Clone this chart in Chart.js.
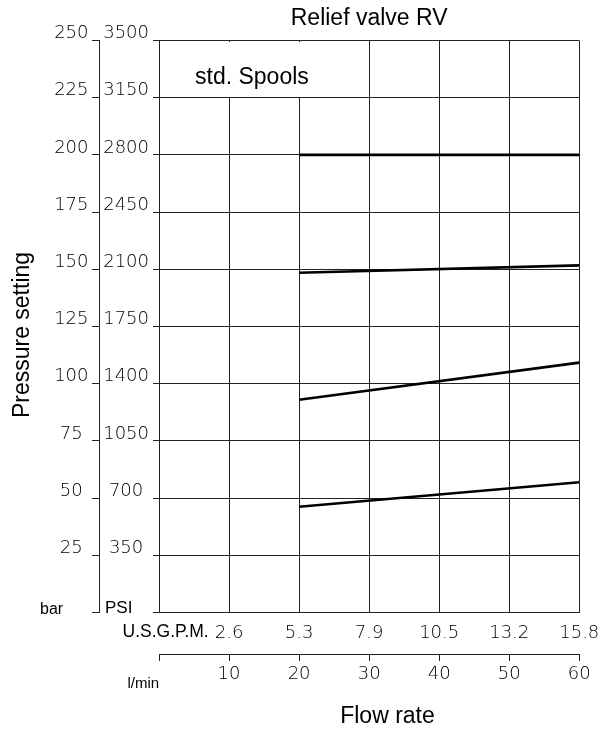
<!DOCTYPE html>
<html><head><meta charset="utf-8">
<script src="https://cdn.jsdelivr.net/npm/chart.js@4/dist/chart.umd.min.js"></script>
<style>html,body{margin:0;padding:0;background:#fff;}canvas{display:block;}</style>
</head><body>
<canvas id="c" width="609" height="730"></canvas>
<script>
// ---- data ----
const chartTitle = 'Relief valve RV';
const seriesNote = 'std. Spools';
const xTitle = 'Flow rate';
const yTitle = 'Pressure setting';
const barUnit = 'bar';
const psiUnit = 'PSI';
const gpmUnit = 'U.S.G.P.M.';
const lpmUnit = 'l/min';

const flowLpm = [20, 60];
const spool200 = [200, 200];
const spool150 = [148.5, 151.7];
const spool100 = [93.0, 109.2];
const spool50 = [46.2, 56.9];

const lpmTicks = [0, 10, 20, 30, 40, 50, 60];
const gpmLabels = ['', '2.6', '5.3', '7.9', '10.5', '13.2', '15.8'];
const barTicks = [0, 25, 50, 75, 100, 125, 150, 175, 200, 225, 250];
const psiLabels = ['', '350', '700', '1050', '1400', '1750', '2100', '2450', '2800', '3150', '3500'];

// ---- styling ----
const LINE = '#222';
const tickFont = {family: 'DejaVu Sans', size: 18, weight: '200'};
const tickColor = '#000';
const labelFamily = '"Liberation Sans", Arial, sans-serif';

function mk(xs, ys) { return xs.map((x, i) => ({x: x, y: ys[i]})); }
const series = [spool200, spool150, spool100, spool50];

const decor = {
  id: 'decor',
  beforeDatasetsDraw(chart) {
    const {ctx, chartArea: a, scales} = chart;
    const x30 = Math.round(scales.xL.getPixelForValue(lpmTicks[3]));
    const y225 = Math.round(scales.yBar.getPixelForValue(barTicks[9]));
    ctx.save();
    ctx.fillStyle = '#fff';
    ctx.fillRect(Math.round(a.left) + 1, Math.round(a.top) + 1, x30 - Math.round(a.left) - 2, y225 - Math.round(a.top) - 2);
    ctx.restore();
  },
  afterDraw(chart) {
    const ctx = chart.ctx;
    ctx.save();
    ctx.fillStyle = '#000';
    ctx.textBaseline = 'alphabetic';
    ctx.font = '23px ' + labelFamily;
    ctx.textAlign = 'left';
    ctx.fillText(seriesNote, 195, 83.5);
    ctx.textAlign = 'center';
    ctx.fillText(xTitle, 387.5, 723);
    ctx.save();
    ctx.translate(28.5, 335);
    ctx.rotate(-Math.PI / 2);
    ctx.fillText(yTitle, 0, 0);
    ctx.restore();
    ctx.textAlign = 'left';
    ctx.font = '16px ' + labelFamily;
    ctx.fillText(barUnit, 40, 613.5);
    ctx.font = '17px ' + labelFamily;
    ctx.fillText(psiUnit, 105, 612.5);
    ctx.font = '17.5px ' + labelFamily;
    ctx.fillText(gpmUnit, 122.5, 637);
    ctx.font = '15px ' + labelFamily;
    ctx.fillText(lpmUnit, 127.5, 688);
    ctx.restore();
  }
};

new Chart(document.getElementById('c'), {
  type: 'line',
  data: {
    datasets: series.map(s => ({
      data: mk(flowLpm, s),
      borderColor: '#000',
      borderWidth: 2.6,
      pointRadius: 0,
      fill: false,
      xAxisID: 'xL',
      yAxisID: 'yBar'
    }))
  },
  options: {
    responsive: false,
    animation: false,
    devicePixelRatio: 1,
    layout: {padding: {left: 0, right: 27, top: 0, bottom: 0}},
    plugins: {
      legend: {display: false},
      tooltip: {enabled: false},
      title: {
        display: true,
        text: chartTitle,
        fullSize: false,
        color: '#000',
        font: {family: labelFamily, size: 23, weight: 'normal'},
        padding: {top: 5.2, bottom: 7.7}
      }
    },
    scales: {
      xL: {
        type: 'linear', position: 'bottom', weight: 1,
        min: lpmTicks[0], max: lpmTicks[lpmTicks.length - 1],
        afterBuildTicks: s => { s.ticks = lpmTicks.map(v => ({value: v})); },
        ticks: {
          font: tickFont, color: tickColor, padding: 2.2, maxRotation: 0, autoSkip: false,
          callback: (v) => (v === 0 ? '' : String(v))
        },
        grid: {drawOnChartArea: false, drawTicks: true, tickLength: 7, color: LINE, lineWidth: 1},
        border: {display: true, color: LINE, width: 1},
        afterFit: s => { s.height = 76; }
      },
      xGpm: {
        type: 'linear', position: 'bottom', weight: 0,
        min: lpmTicks[0], max: lpmTicks[lpmTicks.length - 1],
        afterBuildTicks: s => { s.ticks = lpmTicks.map(v => ({value: v})); },
        ticks: {
          font: tickFont, color: tickColor, padding: 9.7, maxRotation: 0, autoSkip: false,
          callback: (v) => gpmLabels[lpmTicks.indexOf(v)]
        },
        grid: {drawOnChartArea: true, drawTicks: false, tickLength: 0, color: LINE, lineWidth: 1},
        border: {display: true, color: LINE, width: 1},
        afterFit: s => { s.height = 41.5; }
      },
      yBar: {
        type: 'linear', position: 'left', weight: 1,
        min: barTicks[0], max: barTicks[barTicks.length - 1],
        afterBuildTicks: s => { s.ticks = barTicks.map(v => ({value: v})); },
        ticks: {
          font: tickFont, color: tickColor, padding: 3.5, crossAlign: 'center', labelOffset: -7, autoSkip: false,
          callback: (v) => (v === 0 ? '' : String(v))
        },
        grid: {drawOnChartArea: false, drawTicks: true, tickLength: 7, color: LINE, lineWidth: 1},
        border: {display: true, color: LINE, width: 1},
        afterFit: s => { s.width = 99; }
      },
      yPsi: {
        type: 'linear', position: 'left', weight: 0,
        min: barTicks[0], max: barTicks[barTicks.length - 1],
        afterBuildTicks: s => { s.ticks = barTicks.map(v => ({value: v})); },
        ticks: {
          font: tickFont, color: tickColor, padding: 4, crossAlign: 'center', labelOffset: -7, autoSkip: false,
          callback: (v) => psiLabels[barTicks.indexOf(v)]
        },
        grid: {drawOnChartArea: true, drawTicks: true, tickLength: 6, color: LINE, lineWidth: 1},
        border: {display: true, color: LINE, width: 1},
        afterFit: s => { s.width = 60; }
      }
    }
  },
  plugins: [decor]
});
</script>
</body></html>
